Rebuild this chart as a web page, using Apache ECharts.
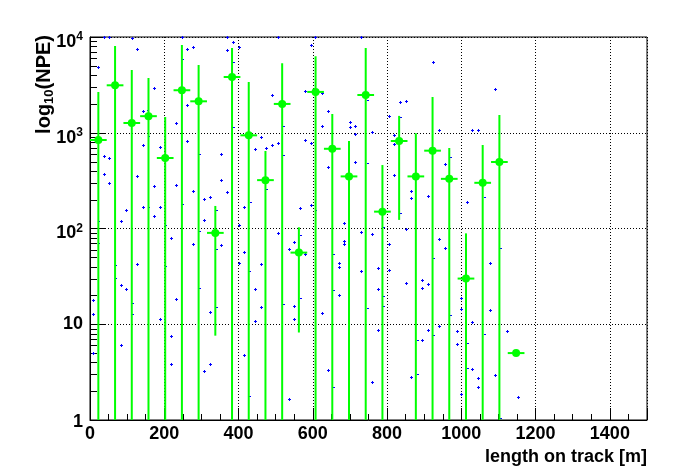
<!DOCTYPE html>
<html>
<head>
<meta charset="utf-8">
<script src="https://cdn.jsdelivr.net/npm/echarts@6/dist/echarts.min.js"></script>
<style>html,body{margin:0;padding:0;background:#fff}#c{width:696px;height:472px}</style>
</head>
<body>
<div id="c"></div>
<script>
// ---- data ----
const greenX = [22.5, 67.5, 112.5, 157.5, 202.5, 247.5, 292.5, 337.5, 382.5, 427.5, 472.5, 517.5, 562.5, 607.5, 652.5, 697.5, 742.5, 787.5, 832.5, 877.5, 922.5, 967.5, 1012.5, 1057.5, 1102.5, 1147.5];
const greenY = [840, 3130, 1265, 1490, 545, 2780, 2130, 90, 3820, 940, 320, 2000, 56, 2670, 680, 350, 2480, 150, 820, 350, 650, 330, 30, 300, 495, 5];
const greenHigh = [2670, 8050, 4520, 3730, 1460, 8250, 5100, 172, 7680, 3390, 645, 5310, 103, 6310, 1570, 820, 7680, 460, 1500, 990, 2360, 693, 89, 745, 1530, 5];
const greenLow = [1, 1, 1, 1, 1, 1, 1, 7.6, 1, 1, 1, 1, 8.2, 1, 1, 1, 1, 1, 123, 1, 1, 1, 1, 1, 1, 5];
const greenXErr = [22.5, 22.5, 22.5, 22.5, 22.5, 22.5, 22.5, 22.5, 22.5, 22.5, 22.5, 22.5, 22.5, 22.5, 22.5, 22.5, 22.5, 22.5, 22.5, 22.5, 22.5, 22.5, 22.5, 22.5, 22.5, 22.5];

const crossX = [37, 50, 113, 249, 368, 505, 22, 127, 262, 278, 384, 400, 368, 173, 143, 262, 232, 489, 143, 189, 262, 38, 51, 38, 51, 127, 173, 232, 278, 354, 354, 368, 308, 324, 97, 84, 143, 189, 173, 308, 414, 460, 443, 473, 489, 505, 400, 505, 219, 278, 354, 414, 127, 400, 460, 84, 97, 443, 8, 232, 460, 8, 189, 324, 443, 219, 84, 8, 414, 219, 324, 308,
  607, 730, 595, 578, 624, 641, 624, 700, 700, 714, 714, 760, 578, 595, 641, 714, 806, 835, 851, 819, 819, 819, 865, 865, 911, 924, 941, 957, 1030, 1046, 1016, 565, 595, 684, 851, 1092,
  549, 535, 578, 684, 684, 730, 760, 806, 670, 670, 730, 776, 806, 941, 957, 670, 776, 851, 895, 895, 911, 549, 549, 624, 1000, 1000, 1030, 941, 776, 911, 987, 895, 987, 641, 760, 865, 1030, 1046, 1046, 1000, 535, 1076, 1076, 1122, 1092, 1152];
const crossY = [10000, 10000, 9690, 10000, 10000, 10000, 4830, 7440, 7440, 7870, 8810, 7800, 7260, 2910, 1675, 1936, 1256, 2461, 739, 705, 814, 568, 541, 368, 297, 351, 276, 283, 245, 596, 319, 239, 202, 212, 155, 119, 166, 166, 134, 122, 166, 896, 671, 688, 739, 776, 110, 89, 79, 68.4, 66.8, 56.4, 42.3, 43.3, 42.3, 25.5, 23.2, 23.2, 17.8, 18.2, 15.0, 12.7, 11.3, 13.3, 10.7, 7.5, 6.0, 4.97, 4.74, 3.82, 3.82, 3.23,
  10000, 10000, 8190, 2710, 2582, 1675, 1167, 1285, 1140, 1167, 963, 1011, 834, 776, 436, 491, 1486, 2080, 2130, 940, 757, 359, 245, 207, 217, 5445, 1061, 468, 1061, 1061, 188, 163, 175, 113, 100, 2844,
  71.8, 60.6, 53.8, 73.5, 68.4, 91.2, 86.9, 68.4, 43.3, 39.3, 35.7, 38.4, 36.6, 77.1, 62.1, 20.1, 23.2, 26.8, 28.8, 23.7, 26.1, 15.4, 11.3, 13.0, 18.7, 14.3, 10.5, 9.5, 8.65, 8.65, 8.44, 6.8, 6.18, 3.30, 2.48, 2.79, 3.39, 2.73, 2.20, 1.85, 1.64, 43.3, 14.0, 8.44, 2.93, 1.73];

const dotX = [24, 251, 160, 160, 205, 251, 297, 341, 387, 387, 434, 476, 522, 522, 157, 24, 297, 341, 70, 205, 432, 70, 297, 116, 341, 522, 116, 432, 609, 749, 749, 838, 838, 973, 1065, 568, 792, 657, 927, 657, 792, 568, 749, 792, 973, 927, 884, 1019, 884, 657, 1019, 1108, 1065, 1108];
const dotY = [119, 5850, 918, 166, 108, 180, 596, 155, 5445, 1140, 188, 257, 1176, 581, 1741, 70, 93.5, 60.6, 41.3, 40.3, 35.7, 30.2, 23.7, 16.5, 15.0, 16.2, 12.7, 1.78, 155, 480, 2183, 1450, 144, 554, 212, 84.9, 103, 53.8, 48.9, 22.6, 19.6, 18.7, 14.7, 15.4, 12.4, 7.67, 6.8, 6.32, 3.0, 2.2, 3.47, 62.1, 7.85, 1.04];

const xTicks = [0, 200, 400, 600, 800, 1000, 1200, 1400];
const yMinorTicks = [2, 3, 4, 5, 6, 7, 8, 9, 20, 30, 40, 50, 60, 70, 80, 90, 200, 300, 400, 500, 600, 700, 800, 900, 2000, 3000, 4000, 5000, 6000, 7000, 8000, 9000];

// ---- chart ----
const FONT = 'Liberation Sans';
const GREEN = '#00ff00';
const BLUE = '#0000ff';
const chart = echarts.init(document.getElementById('c'), null, {renderer: 'canvas'});

const greenData = greenX.map((x, i) => [x, greenY[i], greenLow[i], greenHigh[i], greenXErr[i]]);
const crossData = crossX.map((x, i) => [x, crossY[i]]);
const dotData = dotX.map((x, i) => [x, dotY[i]]);
const minorData = yMinorTicks.map(v => [0, v]);

const option = {
  animation: false,
  grid: {left: 90, right: 49, top: 37, bottom: 52, show: true, borderColor: '#000', borderWidth: 1, backgroundColor: 'transparent'},
  xAxis: {
    type: 'value', min: 0, max: 1500, interval: 200,
    axisLine: {lineStyle: {color: '#000', width: 1}},
    axisTick: {inside: true, length: 12, lineStyle: {color: '#000'}},
    minorTick: {show: true, splitNumber: 4, length: 6, lineStyle: {color: '#000'}},
    splitLine: {show: true, lineStyle: {color: '#000', type: [1, 2], width: 1}},
    axisLabel: {
      color: '#000', fontFamily: FONT, fontWeight: 'bold', fontSize: 18, margin: 5, showMaxLabel: false,
      formatter: v => xTicks.indexOf(v) >= 0 ? String(v) : ''
    }
  },
  yAxis: {
    type: 'log', logBase: 10, min: 1, max: 10000,
    axisLine: {show: true, lineStyle: {color: '#000', width: 1}},
    axisTick: {inside: true, length: 16, lineStyle: {color: '#000'}},
    splitLine: {show: true, lineStyle: {color: '#000', type: [1, 2], width: 1}},
    axisLabel: {
      color: '#000', fontFamily: FONT, fontWeight: 'bold', fontSize: 18, margin: 7,
      formatter: v => {
        const e = Math.round(Math.log10(v));
        if (e === 0) return '{o|1}';
        if (e === 1) return '10';
        return '{b|10}{s|' + e + '}';
      },
      rich: {
        o: {fontFamily: FONT, fontWeight: 'bold', fontSize: 18, padding: [5, 0, 0, 0]},
        b: {fontFamily: FONT, fontWeight: 'bold', fontSize: 18, padding: [10, 0, 0, 0]},
        s: {fontFamily: FONT, fontWeight: 'bold', fontSize: 12, padding: [8, 0, 0, 0], verticalAlign: 'top'}
      }
    }
  },
  graphic: [
    {
      type: 'text', x: 44, y: 35, rotation: Math.PI / 2,
      style: {
        text: 'log{s|10}(NPE)', align: 'right', verticalAlign: 'middle',
        fontFamily: FONT, fontWeight: 'bold', fontSize: 20, fill: '#000',
        rich: {s: {fontFamily: FONT, fontWeight: 'bold', fontSize: 13, padding: [11, 0, 0, 0], verticalAlign: 'top'}}
      }
    },
    {
      type: 'text', x: 647, y: 457,
      style: {text: 'length on track [m]', align: 'right', verticalAlign: 'middle', fontFamily: FONT, fontWeight: 'bold', fontSize: 18, fill: '#000'}
    }
  ],
  series: [
    {
      type: 'custom', name: 'minor', data: minorData, z: 3, silent: true,
      renderItem: (params, api) => {
        const p = api.coord([0, api.value(1)]);
        const y = Math.round(p[1]) + 0.5;
        return {type: 'line', shape: {x1: p[0], y1: y, x2: p[0] + 7, y2: y}, style: {stroke: '#000', lineWidth: 1}};
      }
    },
    {
      type: 'custom', name: 'dots', data: dotData, z: 4, silent: true,
      renderItem: (params, api) => {
        const p = api.coord([api.value(0), api.value(1)]);
        const cx = Math.round(p[0]), cy = Math.round(p[1]);
        return {type: 'rect', shape: {x: cx - 1, y: cy, width: 2, height: 1}, style: {fill: BLUE}};
      }
    },
    {
      type: 'custom', name: 'crosses', data: crossData, z: 4, silent: true,
      renderItem: (params, api) => {
        const p = api.coord([api.value(0), api.value(1)]);
        const cx = Math.round(p[0]), cy = Math.round(p[1]);
        return {type: 'group', children: [
          {type: 'rect', shape: {x: cx - 1, y: cy, width: 3, height: 1}, style: {fill: BLUE}},
          {type: 'rect', shape: {x: cx, y: cy - 1, width: 1, height: 3}, style: {fill: BLUE}}
        ]};
      }
    },
    {
      type: 'custom', name: 'NPE', data: greenData, z: 5, silent: true, clip: true,
      renderItem: (params, api) => {
        const x = api.value(0), y = api.value(1), lo = api.value(2), hi = api.value(3), ex = api.value(4);
        const c = api.coord([x, y]);
        const pl = api.coord([x, lo]);
        const ph = api.coord([x, hi]);
        const xl = api.coord([x - ex, y]);
        const xr = api.coord([x + ex, y]);
        const children = [];
        if (pl[1] - ph[1] > 0.5) {
          children.push({type: 'line', shape: {x1: c[0], y1: pl[1], x2: c[0], y2: ph[1]}, style: {stroke: GREEN, lineWidth: 2}});
        }
        children.push({type: 'line', shape: {x1: xl[0], y1: c[1], x2: xr[0], y2: c[1]}, style: {stroke: GREEN, lineWidth: 2}});
        children.push({type: 'circle', shape: {cx: c[0], cy: c[1], r: 4}, style: {fill: GREEN}});
        return {type: 'group', children};
      }
    }
  ]
};
chart.setOption(option);
</script>
</body>
</html>
